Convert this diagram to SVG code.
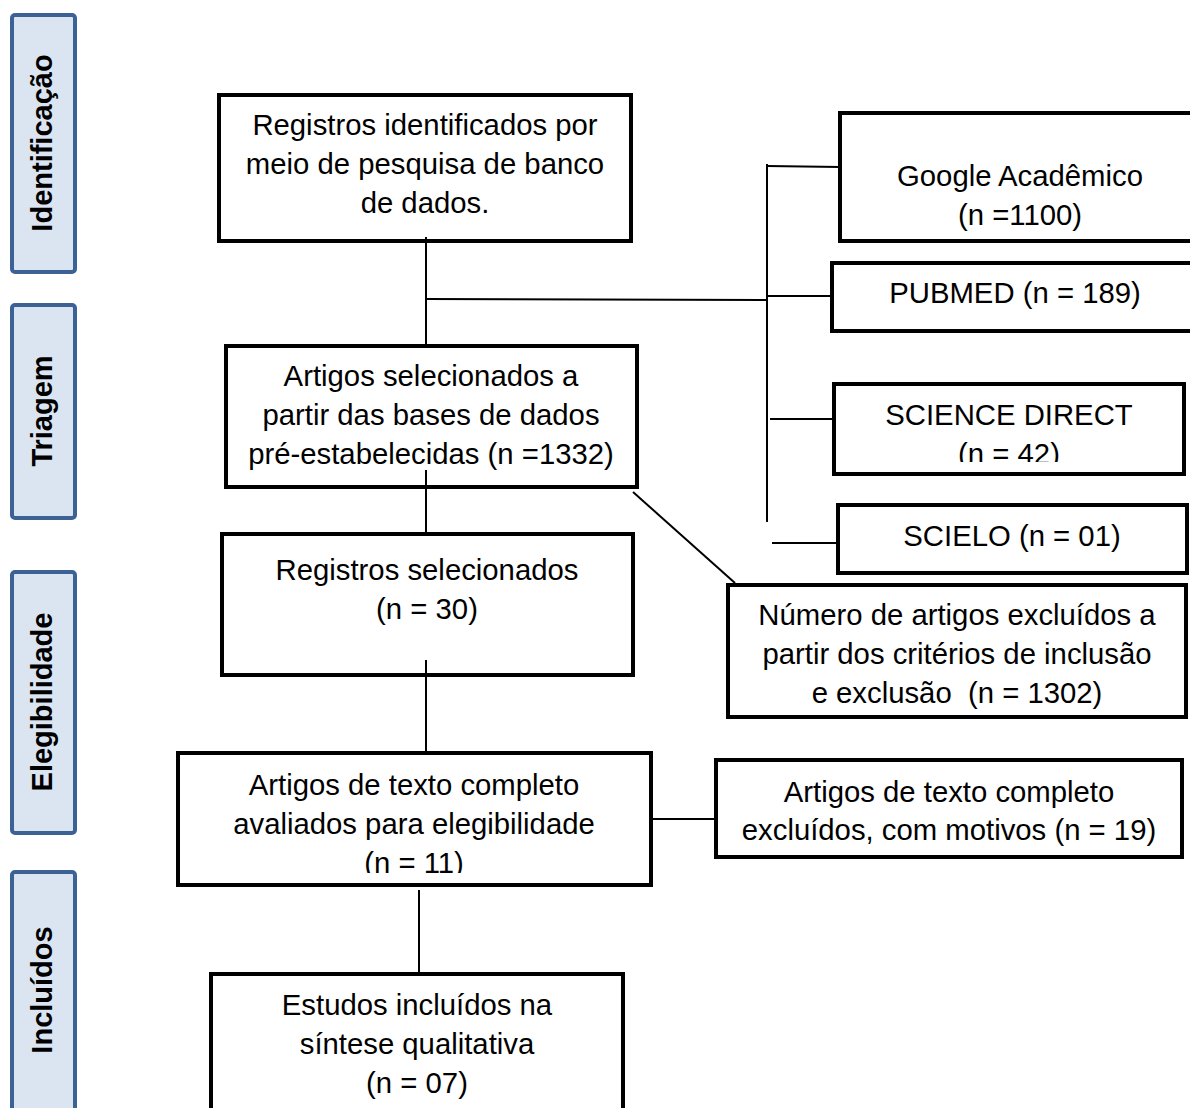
<svg xmlns="http://www.w3.org/2000/svg" width="1190" height="1108" viewBox="0 0 1190 1108">
<style>
.side{fill:#dbe5f1;stroke:#3b6195;stroke-width:4}
.sidet{font-family:"Liberation Sans",Arial,sans-serif;font-weight:bold;font-size:29px;fill:#000;text-anchor:middle}
.box{fill:#fff;stroke:#000;stroke-width:4}
.t{font-family:"Liberation Sans",Arial,sans-serif;font-size:29.3px;fill:#000;text-anchor:middle}
.c{stroke:#000;stroke-width:2;fill:none}
</style>
<defs>
<clipPath id="cpSD"><rect x="836" y="386" width="346" height="76"/></clipPath>
<clipPath id="cpB4"><rect x="180" y="755" width="469" height="118"/></clipPath>
</defs>
<rect width="1190" height="1108" fill="#fff"/>
<g id="side-identificacao"><rect class="side" x="12" y="15" width="63" height="257" rx="3"/><text class="sidet" transform="translate(52,143) rotate(-90)">Identificação</text></g>
<g id="side-triagem"><rect class="side" x="12" y="305" width="63" height="213" rx="3"/><text class="sidet" transform="translate(52,411) rotate(-90)">Triagem</text></g>
<g id="side-elegibilidade"><rect class="side" x="12" y="572" width="63" height="261" rx="3"/><text class="sidet" transform="translate(52,702) rotate(-90)">Elegibilidade</text></g>
<g id="side-incluidos"><rect class="side" x="12" y="872" width="63" height="240" rx="3"/><text class="sidet" transform="translate(52,990) rotate(-90)">Incluídos</text></g>

<g id="n-registros-identificados"><rect class="box" x="219" y="95" width="412" height="146"/>
<text class="t" x="425" y="135">Registros identificados por</text>
<text class="t" x="425" y="174">meio de pesquisa de banco</text>
<text class="t" x="425" y="213">de dados.</text></g>

<g id="n-artigos-selecionados"><rect class="box" x="226" y="346" width="411" height="141"/>
<text class="t" x="431" y="386">Artigos selecionados a</text>
<text class="t" x="431" y="425">partir das bases de dados</text>
<text class="t" x="431" y="464">pré-estabelecidas (n =1332)</text></g>

<g id="n-registros-selecionados"><rect class="box" x="222" y="534" width="411" height="141"/>
<text class="t" x="427" y="580">Registros selecionados</text>
<text class="t" x="427" y="619">(n = 30)</text></g>

<g id="n-texto-completo"><rect class="box" x="178" y="753" width="473" height="132"/>
<g clip-path="url(#cpB4)">
<text class="t" x="414" y="795">Artigos de texto completo</text>
<text class="t" x="414" y="834">avaliados para elegibilidade</text>
<text class="t" x="414" y="873">(n = 11)</text></g></g>

<g id="n-incluidos"><rect class="box" x="211" y="974" width="412" height="140"/>
<text class="t" x="417" y="1015">Estudos incluídos na</text>
<text class="t" x="417" y="1054">síntese qualitativa</text>
<text class="t" x="417" y="1093">(n = 07)</text></g>

<g id="n-google"><rect class="box" x="840" y="113" width="360" height="128"/>
<text class="t" x="1020" y="186">Google Acadêmico</text>
<text class="t" x="1020" y="225">(n =1100)</text></g>

<g id="n-pubmed"><rect class="box" x="832" y="263" width="368" height="68"/>
<text class="t" x="1015" y="303">PUBMED (n = 189)</text></g>

<g id="n-sciencedirect"><rect class="box" x="834" y="384" width="350" height="90"/>
<g clip-path="url(#cpSD)">
<text class="t" x="1009" y="425">SCIENCE DIRECT</text>
<text class="t" x="1009" y="464">(n = 42)</text></g></g>

<g id="n-scielo"><rect class="box" x="838" y="505" width="349" height="68"/>
<text class="t" x="1012" y="546">SCIELO (n = 01)</text></g>

<g id="n-excluidos"><rect class="box" x="728" y="585" width="458" height="132"/>
<text class="t" x="957" y="625">Número de artigos excluídos a</text>
<text class="t" x="957" y="664">partir dos critérios de inclusão</text>
<text class="t" x="957" y="703" style="white-space:pre">e exclusão  (n = 1302)</text></g>

<g id="n-excluidos-texto"><rect class="box" x="716" y="760" width="466" height="97"/>
<text class="t" x="949" y="802">Artigos de texto completo</text>
<text class="t" x="949" y="840">excluídos, com motivos (n = 19)</text></g>

<g id="connectors">
<line class="c" x1="426" y1="237" x2="426" y2="344"/>
<line class="c" x1="426" y1="299" x2="767" y2="300"/>
<line class="c" x1="767" y1="164" x2="767" y2="522"/>
<line class="c" x1="767" y1="166" x2="840" y2="167"/>
<line class="c" x1="767" y1="296" x2="832" y2="296"/>
<line class="c" x1="770" y1="419" x2="834" y2="419"/>
<line class="c" x1="772" y1="543" x2="838" y2="543"/>
<line class="c" x1="426" y1="470" x2="426" y2="534"/>
<line class="c" x1="633" y1="492" x2="735" y2="583"/>
<line class="c" x1="426" y1="660" x2="426" y2="753"/>
<line class="c" x1="651" y1="819" x2="716" y2="819"/>
<line class="c" x1="419" y1="890" x2="419" y2="974"/>
</g>
</svg>
